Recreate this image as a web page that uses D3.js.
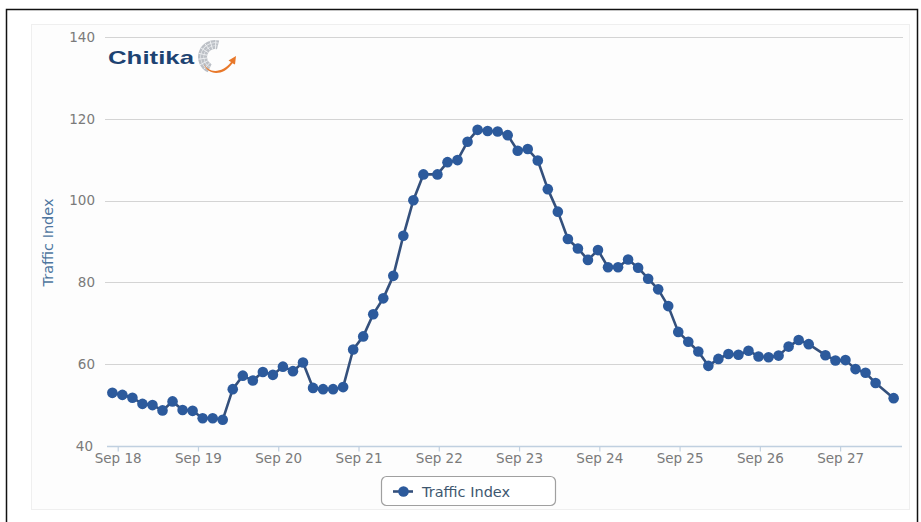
<!DOCTYPE html>
<html>
<head>
<meta charset="utf-8">
<script src="https://cdn.jsdelivr.net/npm/d3@7"></script>
<style>
  body { margin: 0; background: #ffffff; }
  svg { display: block; }
</style>
</head>
<body>
<svg id="chart" width="921" height="522"></svg>
<script>
// Sample times (local), one per traffic reading
const sampleTimes = [
  "09-17 22:24","09-18 01:24","09-18 04:24","09-18 07:24","09-18 10:24","09-18 13:24","09-18 16:24","09-18 19:24","09-18 22:24",
  "09-19 01:24","09-19 04:24","09-19 07:24","09-19 10:24","09-19 13:24","09-19 16:24","09-19 19:24","09-19 22:24",
  "09-20 01:24","09-20 04:24","09-20 07:24","09-20 10:24","09-20 13:24","09-20 16:24","09-20 19:24","09-20 22:24",
  "09-21 01:24","09-21 04:24","09-21 07:24","09-21 10:24","09-21 13:24","09-21 16:24","09-21 19:24",
  "09-21 23:36",
  "09-22 02:36","09-22 05:36","09-22 08:36","09-22 11:36","09-22 14:36","09-22 17:36","09-22 20:36","09-22 23:36",
  "09-23 02:36","09-23 05:36","09-23 08:36","09-23 11:36","09-23 14:36","09-23 17:36","09-23 20:36","09-23 23:36",
  "09-24 02:36","09-24 05:36","09-24 08:36","09-24 11:36","09-24 14:36","09-24 17:36","09-24 20:36","09-24 23:36",
  "09-25 02:36","09-25 05:36","09-25 08:36","09-25 11:36","09-25 14:36","09-25 17:36","09-25 20:36","09-25 23:36",
  "09-26 02:36","09-26 05:36","09-26 08:36","09-26 11:36","09-26 14:36",
  "09-26 19:36","09-26 22:36","09-27 01:36","09-27 04:36","09-27 07:36","09-27 10:36","09-27 16:00"
];

// Traffic Index readings
const trafficIndex = [
  53.0, 52.5, 51.8, 50.3, 50.0, 48.7, 50.9, 48.8, 48.6, 46.8,
  46.8, 46.4, 53.9, 57.2, 56.0, 58.1, 57.4, 59.4, 58.3, 60.4,
  54.2, 53.9, 53.9, 54.4, 63.6, 66.8, 72.2, 76.1, 81.6, 91.4,
  100.1, 106.4, 106.4, 109.4, 109.9, 114.4, 117.3, 117.0, 116.9, 116.0,
  112.2, 112.6, 109.8, 102.8, 97.3, 90.6, 88.3, 85.5, 87.9, 83.7,
  83.7, 85.6, 83.6, 80.9, 78.3, 74.2, 67.9, 65.5, 63.1, 59.6,
  61.3, 62.5, 62.3, 63.3, 61.9, 61.7, 62.1, 64.3, 65.9, 64.9,
  62.2, 60.9, 61.0, 58.8, 57.9, 55.4, 51.7
];

const dayLabels = ["Sep 18","Sep 19","Sep 20","Sep 21","Sep 22","Sep 23","Sep 24","Sep 25","Sep 26","Sep 27"];
const yTicks = [40, 60, 80, 100, 120, 140];
const seriesName = "Traffic Index";
const axisTitle = "Traffic Index";
const brandName = "Chitika";
const year = 2012;

const parseTime = d3.timeParse("%Y-%m-%d %H:%M");
const parseDay = d3.timeParse("%b %d %Y");
const points = sampleTimes.map((s, i) => ({ t: parseTime(year + "-" + s), v: trafficIndex[i] }));
const dayTicks = dayLabels.map(s => parseDay(s + " " + year));

const svg = d3.select("#chart");

// page frame
svg.append("path")
  .attr("d", "M6.5,522 V9.5 H917.5 V522")
  .attr("fill", "none").attr("stroke", "#111").attr("stroke-width", 1.5);

// chart container
svg.append("rect")
  .attr("x", 31.5).attr("y", 24.5).attr("width", 878).attr("height", 485)
  .attr("fill", "#fdfdfd").attr("stroke", "#efefef");

const plot = { left: 107, right: 902, top: 37, bottom: 446 };

const x = d3.scaleTime()
  .domain([parseTime(year + "-09-17 20:48"), parseTime(year + "-09-27 18:30")])
  .range([plot.left, plot.right]);

const y = d3.scaleLinear().domain([40, 140]).range([plot.bottom, plot.top]);

// horizontal grid
svg.append("g").selectAll("line")
  .data(yTicks.filter(d => d !== 40))
  .join("line")
  .attr("x1", plot.left - 2).attr("x2", plot.right + 1)
  .attr("y1", d => Math.round(y(d)) + 0.5).attr("y2", d => Math.round(y(d)) + 0.5)
  .attr("stroke", "#d4d4d4").attr("stroke-width", 1.2);

// y-axis labels
svg.append("g").selectAll("text")
  .data(yTicks)
  .join("text")
  .attr("x", d => d === 40 ? 93 : 95)
  .attr("y", d => y(d))
  .attr("dy", "0.35em")
  .attr("text-anchor", "end")
  .attr("font-family", "DejaVu Sans, sans-serif")
  .attr("font-size", 13.5)
  .attr("fill", "#7a7a7a")
  .text(d => d);

// y-axis title
svg.append("text")
  .attr("transform", `translate(53,${(plot.top + plot.bottom) / 2 + 1}) rotate(-90)`)
  .attr("text-anchor", "middle")
  .attr("font-family", "DejaVu Sans, sans-serif")
  .attr("font-size", 14.5)
  .attr("fill", "#4d759e")
  .text(axisTitle);

// x axis
const xAxis = d3.axisBottom(x)
  .tickValues(dayTicks)
  .tickFormat(d3.timeFormat("%b %d"))
  .tickSize(5)
  .tickPadding(2);

const gx = svg.append("g")
  .attr("transform", `translate(0,${Math.round(plot.bottom) + 0.5})`)
  .call(xAxis);
gx.select(".domain").remove();
gx.selectAll(".tick line").attr("stroke", "#c0d0e0").attr("stroke-width", 1.2);
gx.selectAll(".tick text")
  .attr("font-family", "DejaVu Sans, sans-serif")
  .attr("font-size", 13.5)
  .attr("fill", "#7a7a7a");
gx.append("line")
  .attr("x1", plot.left).attr("x2", plot.right)
  .attr("stroke", "#c0d0e0").attr("stroke-width", 1.6);

// series line and markers
const lineGen = d3.line().x(d => x(d.t)).y(d => y(d.v));
svg.append("path")
  .datum(points)
  .attr("d", lineGen)
  .attr("fill", "none")
  .attr("stroke", "#34507c")
  .attr("stroke-width", 2.6)
  .attr("stroke-linejoin", "round");

svg.append("g").selectAll("circle")
  .data(points)
  .join("circle")
  .attr("cx", d => x(d.t))
  .attr("cy", d => y(d.v))
  .attr("r", 5.3)
  .attr("fill", "#2c5a9c");

// brand mark
const logo = svg.append("g");
logo.append("text")
  .attr("x", 108).attr("y", 64)
  .attr("font-family", "Liberation Sans, Arial, sans-serif")
  .attr("font-weight", "bold")
  .attr("font-size", 19)
  .attr("textLength", 86)
  .attr("lengthAdjust", "spacingAndGlyphs")
  .attr("fill", "#1d4372")
  .text(brandName);

const cx = 215, cy = 57;
const greyArc = d3.arc().innerRadius(8).outerRadius(17)
  .startAngle(-2.7).endAngle(0.25);
logo.append("path")
  .attr("transform", `translate(${cx},${cy})`)
  .attr("d", greyArc())
  .attr("fill", "#bcc0c6");
// stripes across the grey band
[-2.4, -2.05, -1.7, -1.35, -1.0, -0.65, -0.3, 0.05].forEach(a => {
  logo.append("line")
    .attr("x1", cx + 8 * Math.sin(a)).attr("y1", cy - 8 * Math.cos(a))
    .attr("x2", cx + 17 * Math.sin(a)).attr("y2", cy - 17 * Math.cos(a))
    .attr("stroke", "#eceef0").attr("stroke-width", 1);
});
[11, 14].forEach(r => {
  logo.append("path")
    .attr("transform", `translate(${cx},${cy})`)
    .attr("d", d3.arc().innerRadius(r).outerRadius(r + 0.6).startAngle(-2.7).endAngle(0.25)())
    .attr("fill", "#eceef0");
});
// orange swoosh with arrow head
logo.append("path")
  .attr("d", "M204,64 C208,73 222,74 231,62 L228.5,60.5 L236,56 L235,64.5 L232.5,63.2 C223,77 207,75 204,64 Z")
  .attr("fill", "#e8782a");

// legend
const legend = svg.append("g");
legend.append("rect")
  .attr("x", 381.5).attr("y", 476.5).attr("width", 174).attr("height", 29)
  .attr("rx", 5).attr("ry", 5)
  .attr("fill", "#ffffff").attr("stroke", "#a0a0a0").attr("stroke-width", 1.2);
legend.append("line")
  .attr("x1", 393).attr("x2", 413).attr("y1", 491.5).attr("y2", 491.5)
  .attr("stroke", "#34507c").attr("stroke-width", 2.6);
legend.append("circle")
  .attr("cx", 403.5).attr("cy", 491.5).attr("r", 5.3)
  .attr("fill", "#2c5a9c");
legend.append("text")
  .attr("x", 422).attr("y", 496.5)
  .attr("font-family", "DejaVu Sans, sans-serif")
  .attr("font-size", 14.5)
  .attr("fill", "#3e576f")
  .text(seriesName);
</script>
</body>
</html>
